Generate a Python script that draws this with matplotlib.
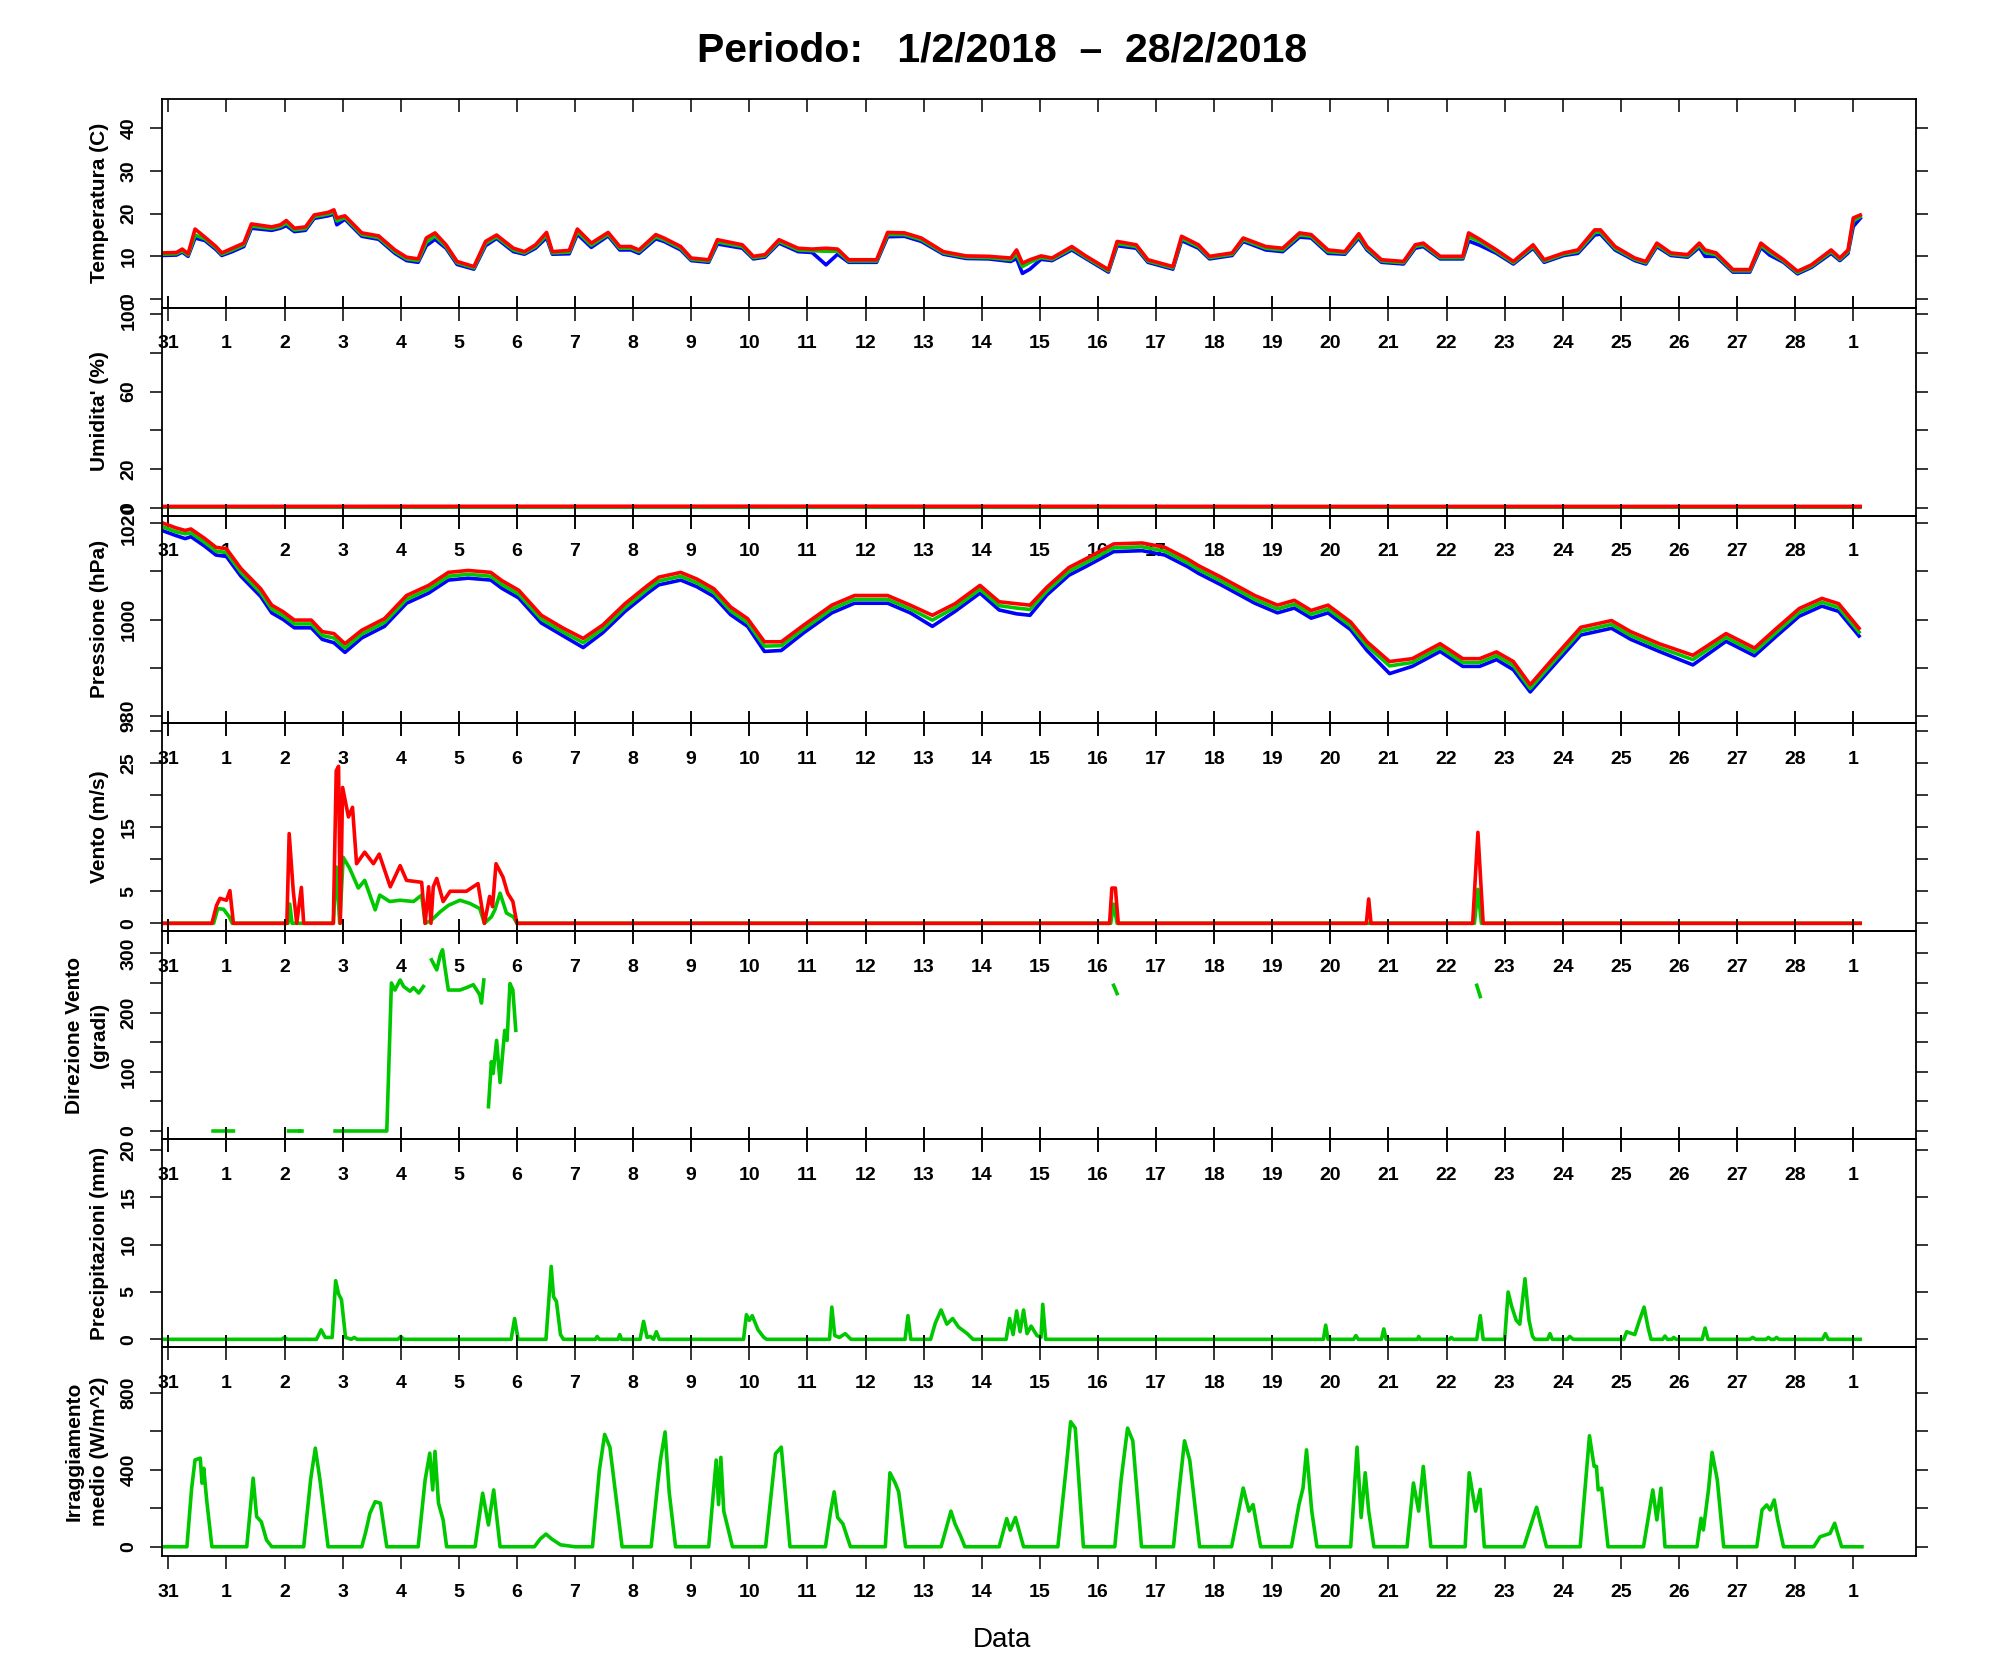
#! /usr/bin/env python3
# coding: utf-8
'''Grafico meteo mensile: temperatura, umidita', pressione, vento, pioggia, radiazione'''

import numpy as np
import matplotlib
matplotlib.use('Agg')
import matplotlib.pyplot as plt

plt.rcParams['font.family'] = ['Liberation Sans', 'DejaVu Sans']

# asse x in giorni a partire dal 31/1 ore 00
day_ticks = list(range(30))
day_labels = ['31', '1', '2', '3', '4', '5', '6', '7', '8', '9', '10', '11', '12', '13',
              '14', '15', '16', '17', '18', '19', '20', '21', '22', '23', '24', '25',
              '26', '27', '28', '1']

# --- temperatura (max / media / min)
temp_t = [-0.11, 0.14, 0.24, 0.34, 0.46, 0.63, 0.82, 0.92, 1.10, 1.30,
          1.43, 1.78, 1.93, 2.03, 2.17, 2.36, 2.51, 2.75, 2.85, 2.90,
          3.04, 3.33, 3.62, 3.90, 4.10, 4.30, 4.44, 4.59, 4.78, 4.97,
          5.26, 5.46, 5.65, 5.94, 6.13, 6.32, 6.51, 6.61, 6.90, 7.04,
          7.28, 7.57, 7.77, 7.96, 8.10, 8.39, 8.53, 8.82, 9.00, 9.30,
          9.45, 9.88, 10.07, 10.27, 10.51, 10.84, 11.08, 11.32, 11.52, 11.71,
          12.19, 12.38, 12.67, 12.96, 13.34, 13.73, 14.12, 14.50, 14.60, 14.70,
          14.83, 15.02, 15.21, 15.55, 15.79, 16.18, 16.33, 16.66, 16.86, 17.29,
          17.44, 17.73, 17.92, 18.31, 18.50, 18.89, 19.18, 19.47, 19.67, 19.96,
          20.25, 20.49, 20.63, 20.88, 21.26, 21.46, 21.60, 21.89, 22.28, 22.38,
          22.57, 22.86, 23.15, 23.49, 23.68, 24.02, 24.26, 24.55, 24.65, 24.90,
          25.24, 25.43, 25.62, 25.86, 26.15, 26.35, 26.45, 26.64, 26.93, 27.22,
          27.41, 27.56, 27.80, 28.04, 28.28, 28.62, 28.77, 28.91, 29.00, 29.12]
temp_max = [10.8, 10.9, 11.7, 10.6, 16.4, 14.5, 12.3, 10.8, 11.9, 13.1,
            17.6, 16.9, 17.4, 18.4, 16.6, 16.9, 19.7, 20.3, 20.9, 19.0,
            19.5, 15.5, 14.8, 11.5, 9.8, 9.4, 14.3, 15.5, 12.7, 8.8,
            7.6, 13.5, 15.0, 11.9, 11.1, 12.7, 15.6, 11.1, 11.4, 16.4,
            13.1, 15.6, 12.3, 12.3, 11.5, 15.1, 14.3, 12.3, 9.6, 9.2,
            13.9, 12.7, 10.0, 10.4, 13.9, 11.9, 11.7, 11.9, 11.7, 9.2,
            9.2, 15.6, 15.5, 14.3, 11.1, 10.1, 10.0, 9.6, 11.5, 8.4,
            9.2, 10.1, 9.6, 12.3, 10.1, 6.9, 13.5, 12.7, 9.2, 7.6,
            14.7, 12.7, 10.0, 10.8, 14.3, 12.3, 11.9, 15.5, 15.1, 11.5,
            11.1, 15.3, 12.3, 9.2, 8.8, 12.7, 13.1, 10.0, 10.0, 15.5,
            14.0, 11.5, 8.8, 12.7, 9.2, 10.8, 11.5, 16.2, 16.2, 12.3,
            9.6, 8.8, 13.1, 10.8, 10.4, 13.1, 11.5, 10.8, 6.9, 6.9,
            13.1, 11.5, 9.2, 6.5, 8.0, 11.5, 9.6, 11.5, 19.0, 19.7]
temp_med = [10.5, 10.6, 11.3, 10.3, 15.0, 14.1, 12.0, 10.5, 11.5, 12.7,
            17.1, 16.5, 17.0, 17.8, 16.2, 16.5, 19.3, 19.9, 20.4, 18.3,
            19.1, 15.1, 14.4, 11.1, 9.4, 9.0, 13.3, 14.8, 12.3, 8.5,
            7.3, 13.0, 14.6, 11.5, 10.8, 12.3, 15.0, 10.8, 11.0, 15.8,
            12.6, 15.2, 11.9, 11.9, 11.1, 14.6, 13.9, 11.9, 9.3, 8.9,
            13.4, 12.3, 9.7, 10.1, 13.5, 11.5, 11.3, 11.2, 11.2, 8.9,
            8.9, 15.1, 15.1, 13.9, 10.8, 9.8, 9.7, 9.2, 10.5, 7.6,
            8.6, 9.7, 9.3, 11.9, 9.8, 6.6, 13.0, 12.3, 8.9, 7.3,
            14.2, 12.3, 9.7, 10.5, 13.9, 11.9, 11.5, 15.0, 14.7, 11.1,
            10.8, 14.8, 11.9, 8.9, 8.5, 12.3, 12.7, 9.7, 9.7, 14.6,
            13.5, 11.1, 8.5, 12.3, 8.9, 10.5, 11.1, 15.6, 15.7, 11.9,
            9.3, 8.5, 12.7, 10.5, 10.1, 12.6, 10.9, 10.4, 6.6, 6.6,
            12.6, 11.0, 8.9, 6.2, 7.7, 11.1, 9.3, 11.1, 18.3, 19.3]
temp_min = [10.2, 10.3, 11.0, 10.0, 14.3, 13.7, 11.6, 10.2, 11.1, 12.3,
            16.6, 16.1, 16.6, 17.2, 15.8, 16.1, 18.9, 19.5, 19.9, 17.4,
            18.7, 14.7, 14.0, 10.7, 9.0, 8.6, 12.5, 14.0, 11.9, 8.1,
            7.0, 12.5, 14.2, 11.1, 10.5, 11.9, 14.4, 10.5, 10.6, 15.2,
            12.1, 14.8, 11.5, 11.5, 10.7, 14.1, 13.5, 11.5, 9.0, 8.6,
            12.9, 11.9, 9.4, 9.8, 13.1, 11.1, 10.9, 8.0, 10.5, 8.6,
            8.6, 14.6, 14.7, 13.5, 10.5, 9.5, 9.4, 8.8, 9.5, 6.0,
            7.0, 9.3, 9.0, 11.5, 9.5, 6.3, 12.5, 11.9, 8.6, 7.0,
            13.7, 11.9, 9.4, 10.2, 13.5, 11.5, 11.1, 14.5, 14.3, 10.7,
            10.5, 14.3, 11.5, 8.6, 8.2, 11.9, 12.3, 9.4, 9.4, 13.6,
            12.6, 10.7, 8.2, 11.9, 8.6, 10.2, 10.7, 15.0, 15.2, 11.5,
            9.0, 8.2, 12.3, 10.2, 9.8, 12.1, 10.0, 10.0, 6.3, 6.3,
            12.1, 10.3, 8.6, 5.9, 7.4, 10.7, 9.0, 10.7, 17.0, 18.9]

# --- umidita' (sensore guasto, valori quasi nulli)
hum_t = [-0.11, 10.0, 20.0, 29.12]
hum_max = [0.7, 0.8, 0.7, 0.7]
hum_med = [0.5, 0.5, 0.5, 0.5]
hum_min = [0.3, 0.3, 0.3, 0.3]

# --- pressione
pres_t = [-0.11, 0.14, 0.29, 0.39, 0.63, 0.82, 1.00, 1.25, 1.59, 1.78,
          1.98, 2.17, 2.46, 2.65, 2.85, 3.04, 3.33, 3.72, 4.10, 4.48,
          4.82, 5.16, 5.55, 5.74, 6.03, 6.42, 6.80, 7.14, 7.48, 7.86,
          8.25, 8.44, 8.82, 9.10, 9.39, 9.68, 9.97, 10.26, 10.55, 10.94,
          11.42, 11.81, 12.38, 12.77, 13.15, 13.54, 13.97, 14.30, 14.60, 14.83,
          15.12, 15.50, 15.79, 16.27, 16.76, 17.15, 17.54, 17.73, 18.12, 18.70,
          19.09, 19.38, 19.67, 19.96, 20.35, 20.63, 21.02, 21.41, 21.89, 22.28,
          22.57, 22.86, 23.15, 23.44, 23.83, 24.31, 24.84, 25.17, 25.66, 26.24,
          26.81, 27.30, 27.68, 28.07, 28.46, 28.75, 29.10]
pres_max = [1020.1, 1019.0, 1018.5, 1018.8, 1016.8, 1015.0, 1014.7, 1010.6, 1006.4, 1003.0,
            1001.6, 999.9, 999.9, 997.5, 997.1, 995.0, 997.8, 1000.2, 1005.0, 1007.1,
            1009.8, 1010.2, 1009.8, 1008.1, 1006.1, 1000.9, 998.2, 996.1, 998.9, 1003.3,
            1007.1, 1008.8, 1009.8, 1008.4, 1006.4, 1002.6, 1000.2, 995.4, 995.4, 998.9,
            1003.0, 1005.0, 1005.0, 1003.0, 1000.9, 1003.3, 1007.1, 1003.7, 1003.3, 1003.0,
            1006.7, 1010.8, 1012.6, 1015.7, 1015.9, 1015.0, 1012.6, 1011.2, 1008.8, 1005.0,
            1003.0, 1004.0, 1001.9, 1003.0, 999.5, 995.4, 991.3, 991.9, 995.0, 991.9,
            991.9, 993.3, 991.3, 986.5, 991.9, 998.4, 999.8, 997.5, 995.0, 992.6,
            997.1, 994.1, 998.2, 1002.3, 1004.4, 1003.3, 998.2]
pres_med = [1019.3, 1018.2, 1017.8, 1018.0, 1016.0, 1014.2, 1013.9, 1009.8, 1005.6, 1002.2,
            1000.8, 999.1, 999.1, 996.7, 996.2, 994.1, 997.0, 999.4, 1004.2, 1006.3,
            1009.0, 1009.4, 1009.0, 1007.3, 1005.3, 1000.1, 997.4, 995.2, 998.1, 1002.5,
            1006.3, 1008.0, 1009.0, 1007.6, 1005.6, 1001.8, 999.4, 994.5, 994.6, 998.1,
            1002.2, 1004.2, 1004.2, 1002.2, 999.9, 1002.5, 1006.3, 1002.9, 1002.4, 1002.1,
            1005.9, 1010.0, 1011.8, 1014.9, 1015.1, 1014.2, 1011.8, 1010.4, 1008.0, 1004.2,
            1002.2, 1003.2, 1001.1, 1002.2, 998.7, 994.6, 990.4, 991.1, 994.2, 991.1,
            991.1, 992.5, 990.5, 985.7, 991.1, 997.6, 999.0, 996.7, 994.2, 991.7,
            996.3, 993.3, 997.4, 1001.5, 1003.6, 1002.5, 997.4]
pres_min = [1018.5, 1017.4, 1016.8, 1017.2, 1015.2, 1013.4, 1013.1, 1009.0, 1004.8, 1001.4,
            1000.0, 998.3, 998.3, 995.9, 995.2, 993.2, 996.2, 998.6, 1003.4, 1005.5,
            1008.2, 1008.6, 1008.2, 1006.5, 1004.5, 999.3, 996.6, 994.2, 997.3, 1001.7,
            1005.5, 1007.2, 1008.2, 1006.8, 1004.8, 1001.0, 998.6, 993.4, 993.6, 997.3,
            1001.4, 1003.4, 1003.4, 1001.4, 998.6, 1001.7, 1005.5, 1002.0, 1001.2, 1000.9,
            1005.1, 1009.2, 1011.0, 1014.1, 1014.3, 1013.4, 1011.0, 1009.6, 1007.2, 1003.4,
            1001.4, 1002.4, 1000.3, 1001.4, 997.9, 993.6, 988.8, 990.3, 993.4, 990.3,
            990.3, 991.7, 989.6, 985.0, 990.3, 996.8, 998.2, 995.9, 993.4, 990.6,
            995.5, 992.5, 996.6, 1000.7, 1002.8, 1001.7, 996.6]

# --- vento: raffica (rosso) e media (verde)
gust_t = [-0.11, 0.75, 0.83, 0.89, 1.00, 1.06, 1.12, 2.04, 2.08, 2.15,
          2.21, 2.29, 2.33, 2.84, 2.89, 2.93, 2.96, 3.00, 3.10, 3.17,
          3.24, 3.38, 3.53, 3.63, 3.82, 3.99, 4.10, 4.36, 4.42, 4.48,
          4.52, 4.56, 4.62, 4.73, 4.85, 5.13, 5.33, 5.44, 5.53, 5.58,
          5.64, 5.76, 5.84, 5.93, 6.00, 16.20, 16.24, 16.30, 16.35, 20.62,
          20.66, 20.70, 22.45, 22.54, 22.63, 29.12]
gust_v = [0, 0, 2.8, 3.9, 3.6, 5.1, 0, 0, 14.0, 5.1,
          0, 5.6, 0, 0, 23.8, 24.5, 0, 21.2, 16.6, 18.1,
          9.3, 11.1, 9.3, 10.8, 5.7, 9.0, 6.7, 6.4, 0, 5.7,
          0, 5.7, 7.0, 3.4, 5.0, 5.0, 6.2, 0, 4.2, 2.6,
          9.3, 7.2, 4.7, 3.4, 0, 0, 5.5, 5.5, 0, 0,
          3.8, 0, 0, 14.2, 0, 0]
wind_t = [-0.11, 0.78, 0.85, 0.95, 1.05, 1.10, 2.06, 2.09, 2.13, 2.84,
          2.89, 2.95, 3.01, 3.12, 3.27, 3.38, 3.56, 3.64, 3.81, 3.99,
          4.22, 4.36, 4.42, 4.53, 4.68, 4.82, 5.02, 5.19, 5.36, 5.44,
          5.56, 5.62, 5.71, 5.82, 5.94, 6.00, 16.22, 16.27, 16.33, 22.48,
          22.54, 22.60, 29.12]
wind_v = [0, 0, 2.3, 2.2, 1.0, 0, 0, 3.0, 0, 0,
          8.8, 0, 10.3, 8.6, 5.5, 6.7, 2.1, 4.4, 3.4, 3.6,
          3.4, 4.4, 0, 0.5, 1.8, 2.8, 3.6, 3.1, 2.3, 0,
          1.0, 2.1, 4.7, 1.6, 1.0, 0, 0, 3.0, 0, 0,
          5.3, 0, 0]

# --- direzione vento (nan = dato mancante)
nan = float('nan')
dir_t = [0.77, 1.12, nan, 2.07, 2.15, nan, 2.21, 2.24, nan, 2.27, 2.30, nan,
         2.87, 2.93, nan, 2.99, 3.76, 3.84, 3.90, 3.99, 4.05, 4.16, 4.22, 4.31, 4.39, nan,
         4.53, 4.62, 4.68, 4.72, 4.76, 4.82, 5.02, 5.13, 5.25, 5.36, 5.39, 5.43, nan,
         5.51, 5.56, 5.59, 5.65, 5.71, 5.79, 5.83, 5.88, 5.93, 5.98, nan,
         16.27, 16.33, nan, 22.52, 22.58]
dir_v = [0, 0, nan, 0, 0, nan, 0, 0, nan, 0, 0, nan,
         0, 0, nan, 0, 0, 250, 238, 255, 244, 236, 242, 233, 244, nan,
         289, 272, 297, 306, 277, 238, 238, 242, 247, 230, 216, 255, nan,
         41, 117, 97, 153, 82, 170, 153, 249, 238, 170, nan,
         246, 232, nan, 246, 227]

# --- precipitazioni
rain_t = [-0.11, 1.95, 2.00, 2.05, 2.55, 2.63, 2.70, 2.82, 2.88, 2.93,
          2.98, 3.05, 3.15, 3.20, 3.25, 3.95, 4.00, 4.05, 5.90, 5.96,
          6.02, 6.50, 6.59, 6.63, 6.68, 6.75, 6.80, 7.35, 7.38, 7.42,
          7.74, 7.77, 7.80, 8.12, 8.18, 8.24, 8.30, 8.35, 8.40, 8.45,
          9.90, 9.95, 10.00, 10.05, 10.15, 10.25, 10.30, 11.38, 11.42, 11.47,
          11.55, 11.65, 11.75, 12.68, 12.73, 12.78, 13.12, 13.20, 13.30, 13.40,
          13.50, 13.60, 13.75, 13.85, 14.42, 14.48, 14.54, 14.60, 14.66, 14.72,
          14.78, 14.85, 14.95, 15.02, 15.05, 15.10, 19.88, 19.92, 19.96, 20.40,
          20.44, 20.48, 20.88, 20.92, 20.96, 21.50, 21.52, 21.55, 22.05, 22.08,
          22.12, 22.52, 22.58, 22.63, 23.00, 23.06, 23.12, 23.20, 23.26, 23.35,
          23.42, 23.48, 23.52, 23.74, 23.78, 23.82, 24.08, 24.12, 24.18, 25.05,
          25.10, 25.24, 25.32, 25.40, 25.47, 25.52, 25.72, 25.76, 25.80, 25.88,
          25.91, 25.95, 26.40, 26.45, 26.50, 27.22, 27.27, 27.32, 27.50, 27.54,
          27.58, 27.64, 27.68, 27.72, 28.47, 28.52, 28.57, 29.12]
rain_v = [0, 0, 0.2, 0, 0, 1.0, 0.2, 0.2, 6.2, 4.8,
          4.2, 0.2, 0, 0.2, 0, 0, 0.3, 0, 0, 2.2,
          0, 0, 7.7, 4.5, 4.0, 0.5, 0, 0, 0.3, 0,
          0, 0.5, 0, 0, 1.9, 0.2, 0.3, 0, 0.8, 0,
          0, 2.6, 2.0, 2.5, 1.0, 0.2, 0, 0, 3.4, 0.4,
          0.2, 0.6, 0, 0, 2.5, 0, 0, 1.7, 3.1, 1.6,
          2.2, 1.3, 0.6, 0, 0, 2.2, 0.5, 3.0, 0.8, 3.1,
          0.6, 1.4, 0.4, 0.2, 3.7, 0, 0, 1.5, 0, 0,
          0.4, 0, 0, 1.1, 0, 0, 0.3, 0, 0, 0.2,
          0, 0, 2.5, 0, 0, 5.0, 3.5, 2.0, 1.6, 6.4,
          2.0, 0.3, 0, 0, 0.6, 0, 0, 0.3, 0, 0,
          0.8, 0.5, 2.0, 3.4, 1.2, 0, 0, 0.35, 0, 0,
          0.2, 0, 0, 1.2, 0, 0, 0.2, 0, 0, 0.2,
          0, 0, 0.2, 0, 0, 0.6, 0, 0]

# --- irraggiamento medio
rad_t = [-0.11, 0.32, 0.40, 0.46, 0.55, 0.58, 0.61, 0.66, 0.75,
         1.35, 1.46, 1.52, 1.60, 1.69, 1.78,
         2.33, 2.45, 2.53, 2.61, 2.75,
         3.33, 3.40, 3.47, 3.56, 3.65, 3.76,
         4.30, 4.42, 4.50, 4.55, 4.59, 4.65, 4.73, 4.79,
         5.28, 5.41, 5.51, 5.60, 5.71,
         6.30, 6.40, 6.50, 6.60, 6.75, 7.00,
         7.30, 7.42, 7.51, 7.60, 7.81,
         8.31, 8.42, 8.47, 8.55, 8.62, 8.73,
         9.30, 9.43, 9.47, 9.51, 9.56, 9.71,
         10.28, 10.45, 10.55, 10.70,
         11.31, 11.40, 11.46, 11.52, 11.61, 11.74,
         12.34, 12.42, 12.51, 12.57, 12.69,
         13.30, 13.38, 13.47, 13.54, 13.64, 13.71,
         14.30, 14.43, 14.49, 14.58, 14.72,
         15.31, 15.45, 15.53, 15.61, 15.75,
         16.29, 16.40, 16.51, 16.60, 16.75,
         17.30, 17.40, 17.49, 17.58, 17.75,
         18.30, 18.50, 18.60, 18.67, 18.80,
         19.33, 19.46, 19.53, 19.59, 19.68, 19.77,
         20.35, 20.46, 20.53, 20.60, 20.66, 20.75,
         21.32, 21.43, 21.52, 21.60, 21.73,
         22.32, 22.39, 22.50, 22.58, 22.65,
         23.33, 23.55, 23.72,
         24.30, 24.46, 24.54, 24.58, 24.61, 24.67, 24.78,
         25.39, 25.55, 25.62, 25.69, 25.76,
         26.31, 26.38, 26.42, 26.51, 26.57, 26.66, 26.77,
         27.34, 27.43, 27.51, 27.57, 27.64, 27.70, 27.80,
         28.32, 28.43, 28.60, 28.68, 28.80, 29.15]
rad_v = [0, 0, 300, 451, 460, 330, 407, 243, 0,
         0, 356, 156, 130, 35, 0,
         0, 350, 512, 347, 0,
         0, 80, 174, 234, 226, 0,
         0, 347, 486, 295, 495, 226, 139, 0,
         0, 278, 113, 295, 0,
         0, 40, 66, 40, 10, 0,
         0, 400, 583, 517, 0,
         0, 318, 450, 596, 285, 0,
         0, 450, 219, 464, 185, 0,
         0, 483, 517, 0,
         0, 185, 285, 152, 119, 0,
         0, 384, 331, 285, 0,
         0, 86, 185, 119, 53, 0,
         0, 146, 86, 152, 0,
         0, 400, 649, 616, 0,
         0, 350, 616, 550, 0,
         0, 300, 550, 450, 0,
         0, 305, 185, 219, 0,
         0, 219, 305, 503, 185, 0,
         0, 517, 152, 384, 185, 0,
         0, 331, 185, 417, 0,
         0, 384, 185, 298, 0,
         0, 205, 0,
         0, 576, 417, 417, 295, 304, 0,
         0, 295, 139, 304, 0,
         0, 148, 87, 300, 490, 347, 0,
         0, 191, 217, 191, 243, 139, 0,
         0, 52, 69, 122, 0, 0]

RED = '#FF0000'
GREEN = '#00C800'
BLUE = '#0000FF'
LW = 2.6

fig = plt.figure(figsize=(19.91, 16.8), dpi=100)
W, H = 1991.0, 1680.0
edges = [99, 307.5, 515.5, 723, 931, 1139, 1347, 1556]
x_left, x_right = 161.7, 1916.0

# (etichetta, limiti y, tick, etichette tick)
panels = [
    ('Temperatura (C)', (-2.0, 46.9), [0, 10, 20, 30, 40], ['0', '10', '20', '30', '40']),
    ("Umidita' (%)", (-4.0, 103.5), [0, 20, 40, 60, 80, 100], ['0', '20', '', '60', '', '100']),
    ('Pressione (hPa)', (978.55, 1021.6), [980, 990, 1000, 1010, 1020],
     ['980', '', '1000', '', '1020']),
    ('Vento (m/s)', (-1.2, 31.26), [0, 5, 10, 15, 20, 25, 30], ['0', '5', '', '15', '', '25', '']),
    ('Direzione Vento\n(gradi)', (-13.5, 337.7), [0, 50, 100, 150, 200, 250, 300],
     ['0', '', '100', '', '200', '', '300']),
    ('Precipitazioni (mm)', (-0.81, 21.16), [0, 5, 10, 15, 20], ['0', '5', '10', '15', '20']),
    ('Irraggiamento\nmedio (W/m^2)', (-48, 1037), [0, 200, 400, 600, 800],
     ['0', '', '400', '', '800']),
]

axes = []
for i, (label, ylim, yt, ytl) in enumerate(panels):
    top, bot = edges[i], edges[i + 1]
    ax = fig.add_axes([x_left / W, 1 - bot / H, (x_right - x_left) / W, (bot - top) / H])
    ax.set_facecolor('none')
    ax.set_xlim(-0.114, 30.08)
    ax.set_ylim(*ylim)
    ax.set_xticks(day_ticks)
    ax.set_xticklabels(day_labels, fontsize=14, fontweight='bold')
    if i == 0:
        ax.tick_params(axis='x', top=True, direction='in', length=9, width=1.1, pad=20.0)
    elif i == len(panels) - 1:
        ax.tick_params(axis='x', top=True, direction='out', length=9, width=1.1, pad=11.0)
    else:
        ax.tick_params(axis='x', top=True, direction='inout', length=18, width=1.1, pad=11.0)
    ax.set_yticks(yt)
    ax.set_yticklabels(ytl, fontsize=14, fontweight='bold', rotation=90, va='center')
    ax.tick_params(axis='y', right=True, direction='out', length=8.4, width=1.1, pad=9.0)
    ax.set_ylabel(label, fontsize=15, fontweight='bold', linespacing=1.4)
    ax.yaxis.set_label_coords(-0.0302, 0.5)
    for sp in ax.spines.values():
        sp.set_linewidth(1.3)
    axes.append(ax)

ax = axes[0]
ax.plot(temp_t, temp_min, color=BLUE, lw=LW)
ax.plot(temp_t, temp_med, color=GREEN, lw=LW)
ax.plot(temp_t, temp_max, color=RED, lw=LW)

ax = axes[1]
ax.plot(hum_t, hum_min, color=BLUE, lw=LW)
ax.plot(hum_t, hum_med, color=GREEN, lw=LW)
ax.plot(hum_t, hum_max, color=RED, lw=LW)

ax = axes[2]
ax.plot(pres_t, pres_min, color=BLUE, lw=LW)
ax.plot(pres_t, pres_med, color=GREEN, lw=LW)
ax.plot(pres_t, pres_max, color=RED, lw=LW)

ax = axes[3]
ax.plot(wind_t, wind_v, color=GREEN, lw=LW)
ax.plot(gust_t, gust_v, color=RED, lw=LW)

axes[4].plot(dir_t, dir_v, color=GREEN, lw=LW)
axes[5].plot(rain_t, rain_v, color=GREEN, lw=LW)
axes[6].plot(rad_t, rad_v, color=GREEN, lw=LW)

fig.text(1002 / W, 1 - 51 / H, 'Periodo:   1/2/2018  \u2013  28/2/2018',
         ha='center', va='center', fontsize=29.5, fontweight='bold')
fig.text(1002 / W, 1 - 1640 / H, 'Data', ha='center', va='center', fontsize=20)

fig.savefig('out.png', dpi=100)
